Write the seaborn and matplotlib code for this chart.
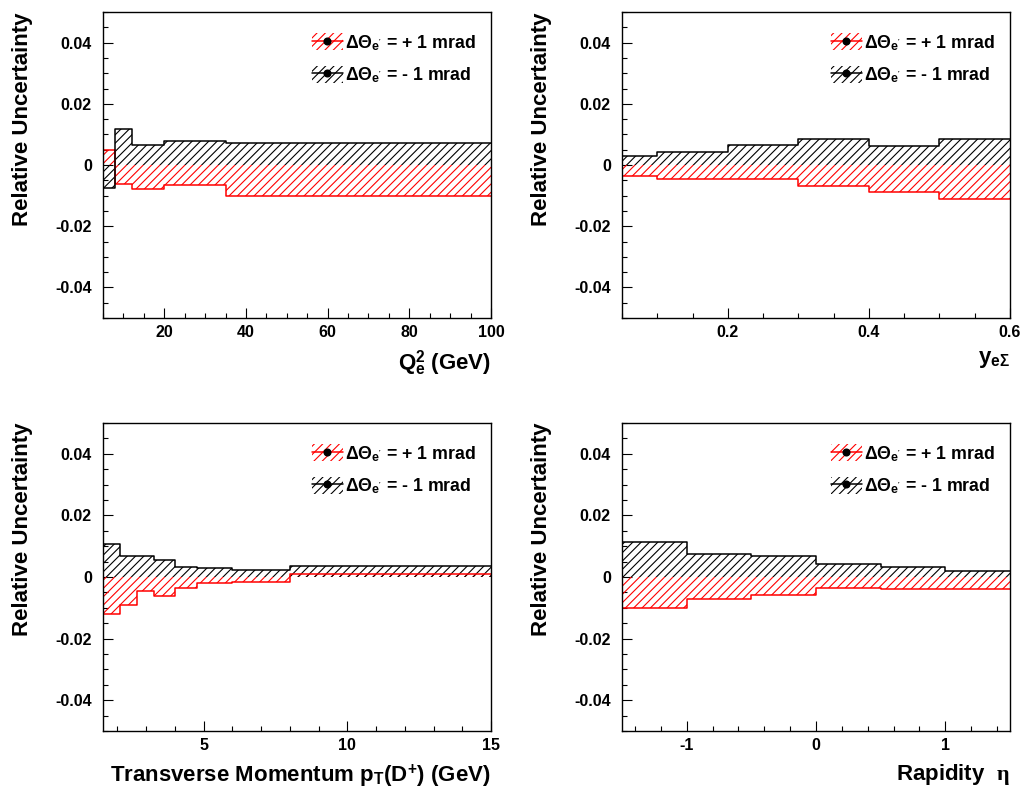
import numpy as np
import pandas as pd
import matplotlib
matplotlib.use("Agg")
import matplotlib.pyplot as plt
import seaborn as sns
from matplotlib.patches import Patch
from matplotlib.lines import Line2D
from matplotlib.ticker import MultipleLocator, FuncFormatter

# ---------------- data ----------------
q2_edges = [5, 8, 12, 20, 35, 100]
q2_plus = [0.0049, -0.0062, -0.0080, -0.0064, -0.0100]
q2_minus = [-0.0075, 0.0118, 0.0064, 0.0077, 0.0073]

y_edges = [0.05, 0.1, 0.2, 0.3, 0.4, 0.5, 0.6]
y_plus = [-0.0037, -0.0047, -0.0047, -0.0067, -0.0089, -0.0111]
y_minus = [0.0029, 0.0041, 0.0064, 0.0085, 0.0063, 0.0085]

pt_edges = [1.5, 2.08, 2.68, 3.28, 4.0, 4.77, 6.0, 8.0, 15.0]
pt_plus = [-0.0120, -0.0091, -0.0046, -0.0062, -0.0037, -0.0021, -0.0015, 0.0009]
pt_minus = [0.0108, 0.0069, 0.0069, 0.0056, 0.0034, 0.0028, 0.0023, 0.0037]

eta_edges = [-1.5, -1.0, -0.5, 0.0, 0.5, 1.0, 1.5]
eta_plus = [-0.0100, -0.0073, -0.0059, -0.0035, -0.0039, -0.0040]
eta_minus = [0.0115, 0.0076, 0.0069, 0.0043, 0.0031, 0.0018]

legend_labels = [r"$\Delta\Theta_{\mathrm{e}^{'}}$ = + 1 mrad",
                 r"$\Delta\Theta_{\mathrm{e}^{'}}$ = - 1 mrad"]
y_title = "Relative Uncertainty"
x_titles = [r"Q$^{2}_{\mathrm{e}}$ (GeV)",
            r"$\mathrm{y}_{\mathrm{e}\Sigma}$",
            r"Transverse Momentum p$_{\mathrm{T}}$(D$^{+}$) (GeV)",
            r"Rapidity  $\eta$"]

# ---------------- style ----------------
sns.set_theme(style="ticks")
plt.rcParams["font.family"] = ["Liberation Sans", "DejaVu Sans"]
plt.rcParams["font.weight"] = "bold"
plt.rcParams["axes.labelweight"] = "bold"
plt.rcParams["text.color"] = "black"
plt.rcParams["axes.labelcolor"] = "black"
plt.rcParams["xtick.color"] = "black"
plt.rcParams["ytick.color"] = "black"
plt.rcParams["mathtext.fontset"] = "custom"
plt.rcParams["mathtext.rm"] = "Liberation Sans:bold"
plt.rcParams["mathtext.bf"] = "Liberation Sans:bold"
plt.rcParams["mathtext.it"] = "Liberation Serif"
plt.rcParams["axes.unicode_minus"] = False
plt.rcParams["hatch.linewidth"] = 0.8

RED = "#ff0000"
BLACK = "#000000"
HATCH = "////"

fig = plt.figure(figsize=(10.26, 7.92), dpi=100)

W = 388 / 1026
positions = [
    (103 / 1026, 1 - 318 / 792, W, 306 / 792),
    (622 / 1026, 1 - 318 / 792, W, 306 / 792),
    (103 / 1026, 1 - 731 / 792, W, 308 / 792),
    (622 / 1026, 1 - 731 / 792, W, 308 / 792),
]

panels = [
    (q2_edges, q2_plus, q2_minus, 20, 5, lambda v, p: f"{v:.0f}"),
    (y_edges, y_plus, y_minus, 0.2, 0.05, lambda v, p: f"{v:.1f}"),
    (pt_edges, pt_plus, pt_minus, 5, 1, lambda v, p: f"{v:.0f}"),
    (eta_edges, eta_plus, eta_minus, 1, 0.2,
     lambda v, p: "0" if abs(v) < 1e-9 else f"{v:.0f}"),
]


def yfmt(v, p):
    if abs(v) < 1e-9:
        return "0"
    return f"{v:.2f}"


def draw_hist(ax, edges, vals, color):
    e = np.asarray(edges, float)
    centers = 0.5 * (e[:-1] + e[1:])
    df = pd.DataFrame({"x": centers, "w": vals})
    bins = [float(b) for b in edges]
    sns.histplot(data=df, x="x", weights="w", bins=bins, element="step",
                 fill=True, color=color, facecolor="none", edgecolor=color,
                 hatch=HATCH, linewidth=0, alpha=1, ax=ax)
    sns.histplot(data=df, x="x", weights="w", bins=bins, element="step",
                 fill=False, color=color, linewidth=1.1, ax=ax)


for i, (edges, vplus, vminus, major, minor, xf) in enumerate(panels):
    ax = fig.add_axes(positions[i])
    draw_hist(ax, edges, vplus, RED)
    draw_hist(ax, edges, vminus, BLACK)
    ax.set_xlim(edges[0], edges[-1])
    ax.set_ylim(-0.05, 0.05)
    ax.xaxis.set_major_locator(MultipleLocator(major))
    ax.xaxis.set_minor_locator(MultipleLocator(minor))
    ax.yaxis.set_major_locator(MultipleLocator(0.02))
    ax.yaxis.set_minor_locator(MultipleLocator(0.005))
    ax.xaxis.set_major_formatter(FuncFormatter(xf))
    ax.yaxis.set_major_formatter(FuncFormatter(yfmt))
    ax.tick_params(which="both", direction="in", top=False, right=False,
                   width=0.8, colors="black", labelcolor="black")
    ax.tick_params(which="major", length=7.2, labelsize=11.5)
    ax.tick_params(axis="x", which="major", pad=5)
    ax.tick_params(axis="y", which="major", pad=8)
    ax.tick_params(which="minor", length=3.6)
    for lab in ax.get_xticklabels() + ax.get_yticklabels():
        lab.set_fontweight("bold")
    for s in ax.spines.values():
        s.set_visible(True)
        s.set_linewidth(1.0)
        s.set_color("black")
    ax.set_ylabel(y_title, fontsize=16, fontweight="bold", loc="top",
                  color="black")
    ax.yaxis.set_label_coords(-0.18, 1.0)
    ax.set_xlabel(x_titles[i], fontsize=16, fontweight="bold", loc="right",
                  color="black")
    ax.xaxis.set_label_coords(1.0, -0.1)

    handles = [
        (Patch(facecolor="none", edgecolor=RED, hatch=HATCH, linewidth=0),
         Line2D([], [], color=RED, lw=1.1, marker="o", markersize=4.8,
                markerfacecolor="black", markeredgecolor="black")),
        (Patch(facecolor="none", edgecolor=BLACK, hatch=HATCH, linewidth=0),
         Line2D([], [], color=BLACK, lw=1.1, marker="o", markersize=4.8,
                markerfacecolor="black", markeredgecolor="black")),
    ]
    ax.legend(handles, legend_labels, loc="upper left",
              bbox_to_anchor=(0.52, 0.955), frameon=False,
              handlelength=1.75, handleheight=1.1,
              handletextpad=0.1, labelspacing=0.72, borderaxespad=0,
              prop={"weight": "bold", "size": 12.8})

fig.savefig("out.png", dpi=100)
